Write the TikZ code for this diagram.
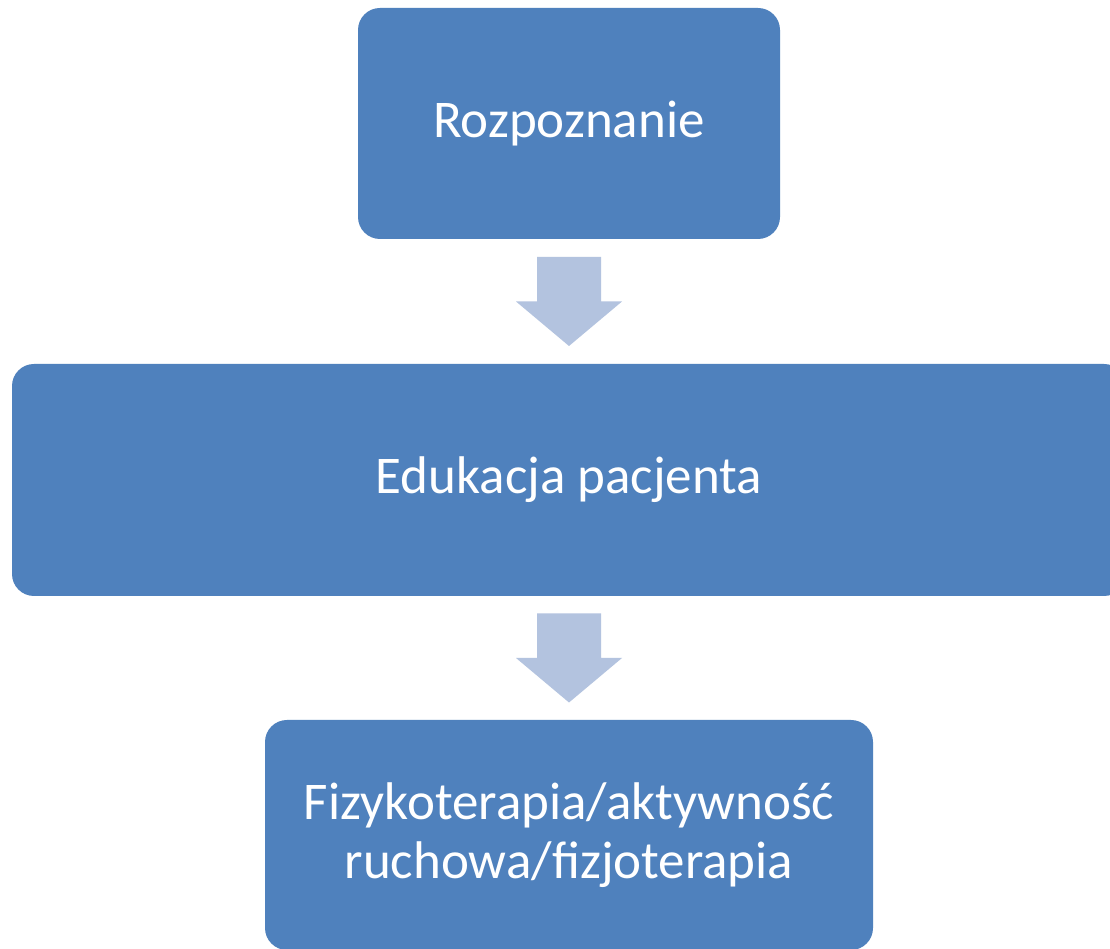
\documentclass[tikz,border=0pt]{standalone}
\usepackage{fontspec}
\setmainfont{Carlito}
\usetikzlibrary{calc}
\definecolor{boxblue}{HTML}{4F81BD}
\definecolor{arrowblue}{HTML}{B3C3DF}
\tikzset{
  flowbox/.style={rectangle, rounded corners=22pt, fill=boxblue, draw=none,
    text=white, align=center, inner sep=0pt,
    font=\fontsize{53}{59}\selectfont},
  flowarrow/.style={fill=arrowblue, draw=none}
}
\newcommand{\blockarrow}[1]{%
  \path[flowarrow] ($(#1)+(-32pt,44.5pt)$) -- ++(64pt,0) -- ++(0,-44.5pt) -- ++(21pt,0)
    -- ($(#1)+(0,-44.5pt)$) -- ($(#1)+(-53pt,0)$) -- ++(21pt,0) -- cycle;}
\begin{document}
\begin{tikzpicture}[x=1pt,y=1pt]
\useasboundingbox (0,0) rectangle (1110,949);
\clip (0,0) rectangle (1110,949);
\fill[white] (0,0) rectangle (1110,949);
\node[flowbox, minimum width=422pt, minimum height=231pt] (b1) at (569,825.5) {Rozpoznanie};
\node[flowbox, minimum width=1114pt, minimum height=232pt] (b2) at (569,469) {Edukacja pacjenta};
\node[flowbox, minimum width=608pt, minimum height=230pt] (b3) at (569,114) {Fizykoterapia/aktywność\\ruchowa/fizjoterapia};
\coordinate (a1) at ($(b1.south)!0.5!(b2.north)$);
\coordinate (a2) at ($(b2.south)!0.5!(b3.north)$);
\blockarrow{a1}
\blockarrow{a2}
\end{tikzpicture}
\end{document}
